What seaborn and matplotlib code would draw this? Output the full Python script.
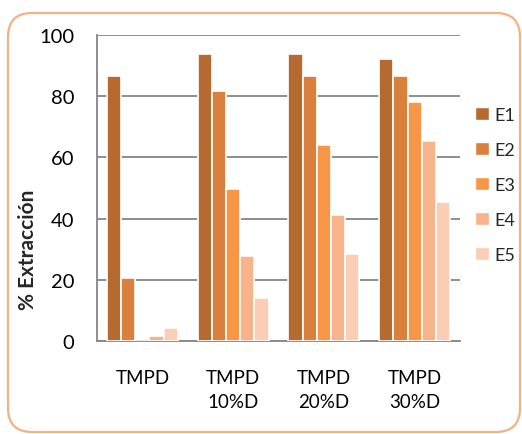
import matplotlib
matplotlib.use("Agg")
import matplotlib.pyplot as plt
from matplotlib.patches import FancyBboxPatch, Patch
import seaborn as sns
import pandas as pd

# Extraction percentages per treatment and stage
treatments = ["TMPD", "TMPD\n10%D", "TMPD\n20%D", "TMPD\n30%D"]
stages = ["E1", "E2", "E3", "E4", "E5"]
e1 = [86.7, 93.8, 93.8, 92.1]
e2 = [20.7, 81.8, 86.7, 86.7]
e3 = [0.0, 49.6, 64.1, 78.0]
e4 = [1.6, 27.8, 41.2, 65.4]
e5 = [4.1, 14.2, 28.4, 45.5]
yticks = [0, 20, 40, 60, 80, 100]

colors = ["#B66A2F", "#D9803C", "#F79646", "#F9B38B", "#FBCDB5"]
grey = "#868686"

rows = []
for stage, vals in zip(stages, [e1, e2, e3, e4, e5]):
    for t, v in zip(treatments, vals):
        rows.append({"Tratamiento": t, "Etapa": stage, "Extraccion": v})
df = pd.DataFrame(rows)

sns.set_theme(style="white")
plt.rcParams["font.family"] = ["Lato", "DejaVu Sans"]

fig = plt.figure(figsize=(5.22, 4.35), dpi=100)
ax = fig.add_axes([97 / 522, 1 - 342 / 435, 363 / 522, 306 / 435])

sns.barplot(data=df, x="Tratamiento", y="Extraccion", hue="Etapa",
            order=treatments, hue_order=stages, palette=colors,
            saturation=1, width=0.78, edgecolor="white", linewidth=1.2,
            legend=False, ax=ax, zorder=3)

ax.set_ylim(0, 100)
ax.set_xlim(-0.5, len(treatments) - 0.5)
ax.set_yticks(yticks)
ax.set_yticklabels([str(v) for v in yticks], fontsize=14.5)
ax.yaxis.grid(True, color=grey, linewidth=1.3, zorder=0)
ax.set_axisbelow(True)

# category boundary ticks on the x axis
ax.set_xticks(range(len(treatments)))
ax.set_xticklabels(treatments, fontsize=13.5, linespacing=1.5)
ax.set_xticks([i - 0.5 for i in range(len(treatments) + 1)], minor=True)
ax.tick_params(axis="x", which="major", length=0, pad=20, colors="black")
ax.tick_params(axis="x", which="minor", direction="out", length=5,
               width=1.3, color=grey)
ax.tick_params(axis="y", direction="inout", length=9, width=1.3,
               color=grey, pad=12, labelcolor="black")

for side in ["top", "right"]:
    ax.spines[side].set_visible(False)
for side in ["left", "bottom"]:
    ax.spines[side].set_color(grey)
    ax.spines[side].set_linewidth(1.3)

ax.set_xlabel("")
ax.set_ylabel("% Extracción", fontsize=15, fontweight="bold")
ax.yaxis.set_label_coords(-0.163, 0.30)

handles = [Patch(facecolor=c, edgecolor="white", label=s)
           for c, s in zip(colors, stages)]
fig.legend(handles=handles, loc="center left",
           bbox_to_anchor=(475 / 522, 1 - 186 / 435), frameon=False,
           borderaxespad=0, borderpad=0,
           fontsize=13, handlelength=0.75, handleheight=0.75,
           handletextpad=0.35, labelspacing=1.05)

# rounded outer frame
frame = FancyBboxPatch((8, 2), 512, 419, boxstyle="round,pad=0,rounding_size=24",
                       transform=None, facecolor="none", edgecolor="#F4B183",
                       linewidth=1.6, zorder=10)
fig.patches.append(frame)

fig.savefig("out.png", dpi=100)
